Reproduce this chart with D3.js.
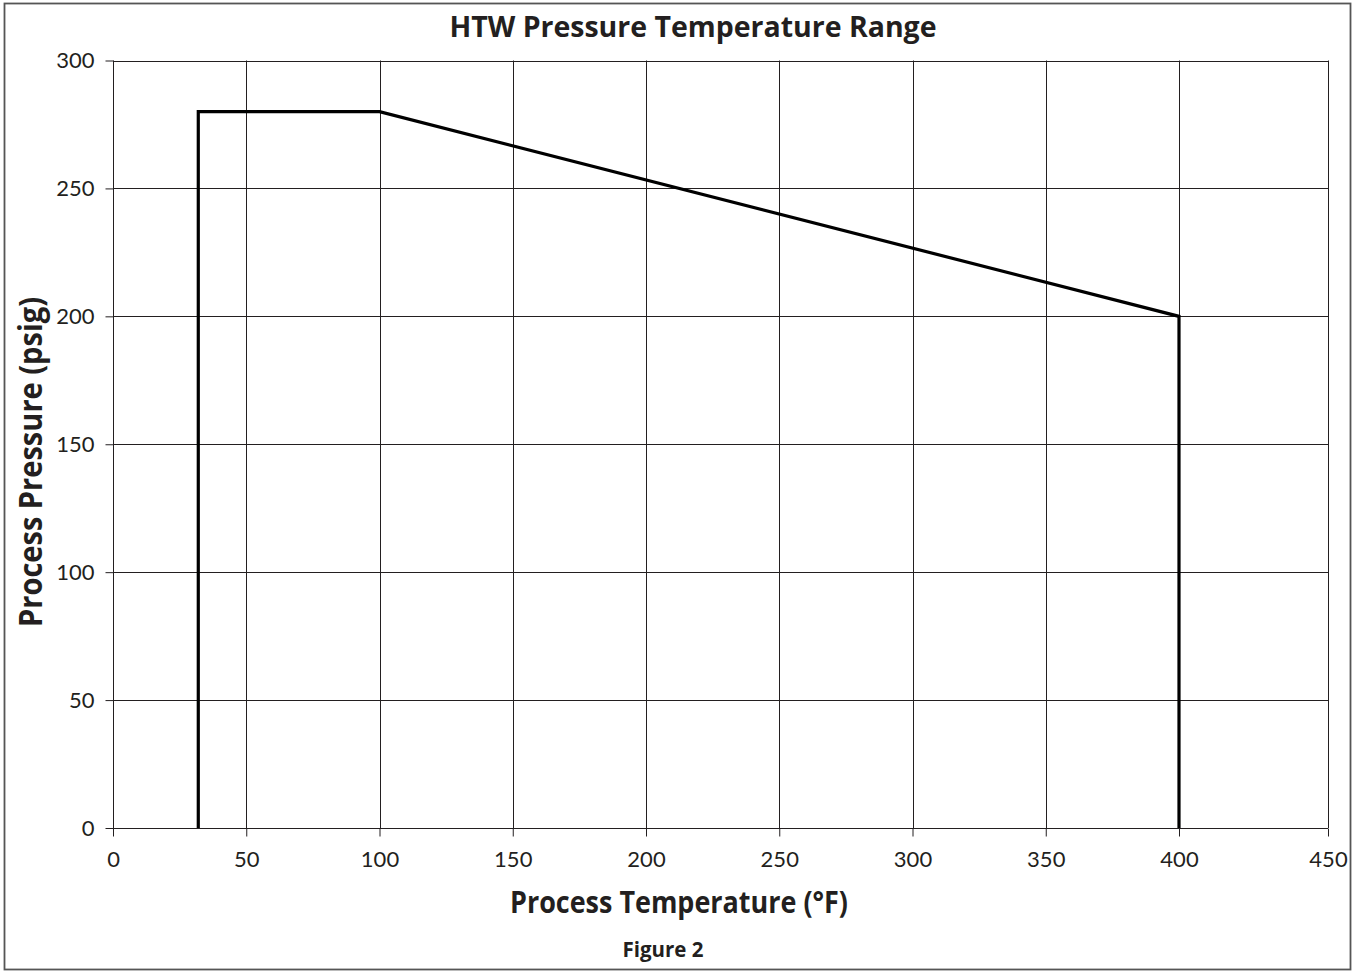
<!DOCTYPE html>
<html>
<head>
<meta charset="utf-8">
<script src="https://cdn.jsdelivr.net/npm/d3@7"></script>
<style>
  body { margin: 0; background: #fff; }
  text { font-family: Lato, "Open Sans", sans-serif; fill: #231f20; }
  .ttl { font-family: "Open Sans", Lato, sans-serif; font-weight: bold; }
</style>
</head>
<body>
<svg width="1359" height="971"></svg>
<script>
// envelope of allowed operating points
var temps = [32, 32, 100, 400, 400];
var pressures = [0, 280, 280, 200, 0];

var xTicks = [0, 50, 100, 150, 200, 250, 300, 350, 400, 450];
var yTicks = [0, 50, 100, 150, 200, 250, 300];

var svg = d3.select("svg");
var ink = "#231f20";

// outer frame
svg.append("rect").attr("x", 4.5).attr("y", 3.5).attr("width", 1346).attr("height", 966)
  .attr("fill", "none").attr("stroke", "#555").attr("stroke-width", 1.8);

// the last interval of the original is a bit wider, so the scale is piecewise
var x = d3.scaleLinear().domain([0, 400, 450]).range([113, 1179, 1328]);
var y = d3.scaleLinear().domain([0, 300]).range([828, 60.5]);

// grid
svg.append("g").selectAll("line").data(yTicks).enter().append("line")
  .attr("x1", x(0)).attr("x2", x(450))
  .attr("y1", function(d){return Math.round(y(d)) + 0.5;})
  .attr("y2", function(d){return Math.round(y(d)) + 0.5;})
  .attr("stroke", ink).attr("stroke-width", 1);
svg.append("g").selectAll("line").data(xTicks).enter().append("line")
  .attr("x1", function(d){return Math.round(x(d)) + 0.5;})
  .attr("x2", function(d){return Math.round(x(d)) + 0.5;})
  .attr("y1", y(300)).attr("y2", y(0))
  .attr("stroke", ink).attr("stroke-width", 1);

// axes
var xAxis = d3.axisBottom(x).tickValues(xTicks).tickSize(8).tickPadding(15).tickFormat(d3.format("d"));
var yAxis = d3.axisLeft(y).tickValues(yTicks).tickSize(8).tickPadding(11).tickFormat(d3.format("d"));

var gx = svg.append("g").attr("transform", "translate(0," + (Math.round(y(0)) + 0.5) + ")").call(xAxis);
var gy = svg.append("g").attr("transform", "translate(" + (Math.round(x(0)) + 0.5) + ",0)").call(yAxis);
[gx, gy].forEach(function(g){
  g.select(".domain").remove();
  g.selectAll("line").attr("stroke", ink);
  g.selectAll("text").attr("font-size", 22).attr("font-family", "Lato, sans-serif").attr("fill", ink);
});
gx.selectAll("text").attr("dy", "0.71em");

// envelope line
var line = d3.line()
  .x(function(d, i){return x(temps[i]);})
  .y(function(d, i){return y(pressures[i]);});
svg.append("path").datum(temps).attr("d", line)
  .attr("fill", "none").attr("stroke", "#000").attr("stroke-width", 3.2)
  .attr("stroke-linejoin", "miter");

// titles
svg.append("text").attr("class", "ttl").attr("x", 693).attr("y", 37).attr("text-anchor", "middle")
  .attr("font-size", 28)
  .attr("textLength", 487).attr("lengthAdjust", "spacingAndGlyphs")
  .text("HTW Pressure Temperature Range");

svg.append("text").attr("class", "ttl").attr("x", 679).attr("y", 913).attr("text-anchor", "middle")
  .attr("font-size", 31)
  .attr("textLength", 338).attr("lengthAdjust", "spacingAndGlyphs")
  .text("Process Temperature (\u00b0F)");

svg.append("text").attr("class", "ttl").attr("transform", "translate(42,462) rotate(-90)").attr("text-anchor", "middle")
  .attr("font-size", 32)
  .attr("textLength", 330).attr("lengthAdjust", "spacingAndGlyphs")
  .text("Process Pressure (psig)");

svg.append("text").attr("class", "ttl").attr("x", 663).attr("y", 957).attr("text-anchor", "middle")
  .attr("font-size", 21)
  .attr("textLength", 81).attr("lengthAdjust", "spacingAndGlyphs")
  .text("Figure 2");
</script>
</body>
</html>
